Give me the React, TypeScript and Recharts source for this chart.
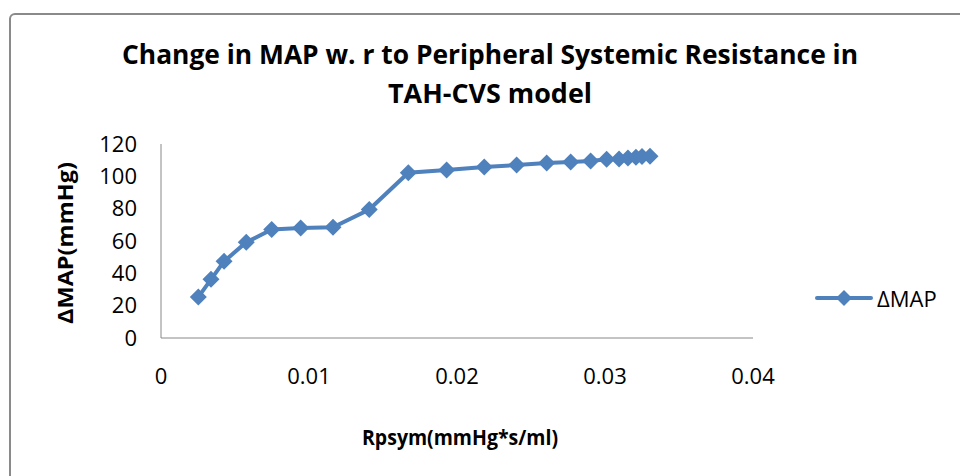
import { Legend, Line, LineChart, XAxis, YAxis } from "recharts";

const rpsym = [
  0.00252, 0.00338, 0.00426, 0.00576, 0.00748, 0.00944, 0.01162, 0.01407, 0.01671, 0.0193, 0.02184,
  0.02403, 0.02606, 0.02768, 0.02903, 0.03011, 0.03095, 0.03155, 0.03209, 0.0325, 0.03304,
];
const deltaMap = [
  25.3, 36.3, 47.4, 59.2, 67.1, 68.1, 68.5, 79.5, 102.2, 103.9, 105.7, 107.0, 108.2, 108.8, 109.5,
  110.5, 110.7, 111.3, 111.8, 112.2, 112.5,
];
const xTicks = [0, 0.01, 0.02, 0.03, 0.04];
const yTicks = [0, 20, 40, 60, 80, 100, 120];

const data = rpsym.map((r, i) => ({ r, dmap: deltaMap[i] }));

const BLUE = "#4F81BD";
const FONT = "'Open Sans', 'Noto Sans', sans-serif";

function Diamond(props: any) {
  const { cx, cy } = props;
  if (cx == null || cy == null) return null;
  const h = 8.5;
  return (
    <path
      key={`d-${props.index}`}
      d={`M${cx},${cy - h}L${cx + h},${cy}L${cx},${cy + h}L${cx - h},${cy}Z`}
      fill={BLUE}
      stroke="none"
    />
  );
}

// axis titles, squeezed a bit to get the narrow Calibri look
function XTitle(props: any) {
  const { x, y, width } = props.viewBox;
  return (
    <text x={x + width / 2 + 3} y={y + 107} textAnchor="middle" fontFamily={FONT} fontWeight="bold"
      fontSize={21} textLength={196} lengthAdjust="spacingAndGlyphs" fill="#000">
      Rpsym(mmHg*s/ml)
    </text>
  );
}

function YTitle(props: any) {
  const { y, height } = props.viewBox;
  const cx = 73;
  const cy = y + height / 2 + 2;
  return (
    <text x={cx} y={cy} textAnchor="middle" transform={`rotate(-90, ${cx}, ${cy})`} fontFamily={FONT}
      fontWeight="bold" fontSize={21} textLength={162} lengthAdjust="spacingAndGlyphs" fill="#000">
      ΔMAP(mmHg)
    </text>
  );
}

function LegendBox() {
  return (
    <div style={{ display: "flex", alignItems: "center", fontFamily: FONT, fontSize: 22, color: "#000" }}>
      <svg width={58} height={20}>
        <line x1={2} y1={10} x2={56} y2={10} stroke={BLUE} strokeWidth={4} strokeLinecap="round" />
        <path d="M29,2L37,10L29,18L21,10Z" fill={BLUE} />
      </svg>
      <span style={{ marginLeft: 4 }}>ΔMAP</span>
    </div>
  );
}

export default function App() {
  return (
    <div style={{ position: "fixed", left: 0, top: 0, width: 960, height: 476, overflow: "hidden", background: "#fff" }}>
      <div
        style={{
          position: "absolute",
          left: 9,
          top: 13,
          width: 1000,
          height: 520,
          border: "2px solid #8a8a8a",
          borderRadius: 6,
          boxSizing: "border-box",
        }}
      />
      <svg width={960} height={120} style={{ position: "absolute", left: 0, top: 0 }}>
        <text x={490} y={64} textAnchor="middle" fontFamily={FONT} fontWeight="bold" fontSize={26}
          textLength={736} lengthAdjust="spacingAndGlyphs">
          Change in MAP w. r to Peripheral Systemic Resistance in
        </text>
        <text x={490} y={103} textAnchor="middle" fontFamily={FONT} fontWeight="bold" fontSize={26}
          textLength={204} lengthAdjust="spacingAndGlyphs">
          TAH-CVS model
        </text>
      </svg>
      <div style={{ position: "absolute", left: 0, top: 0 }}>
        <LineChart width={960} height={476} data={data} margin={{ top: 144, right: 207, bottom: 38, left: 101 }}>
          <XAxis
            type="number"
            dataKey="r"
            domain={[0, 0.04]}
            ticks={xTicks}
            tickLine={false}
            tickSize={0}
            tickMargin={30}
            height={100}
            stroke="#888"
            fontSize={22}
            fontFamily={FONT}
            tick={{ fill: "#000", fontSize: 22, fontFamily: FONT }}
            label={<XTitle />}
          />
          <YAxis
            type="number"
            domain={[0, 120]}
            ticks={yTicks}
            tickLine={false}
            tickSize={0}
            tickMargin={24}
            width={60}
            stroke="#888"
            fontSize={22}
            fontFamily={FONT}
            tick={{ fill: "#000", fontSize: 22, fontFamily: FONT }}
            label={<YTitle />}
          />
          <Line
            type="linear"
            dataKey="dmap"
            name="ΔMAP"
            stroke={BLUE}
            strokeWidth={4}
            dot={<Diamond />}
            activeDot={false}
            isAnimationActive={false}
          />
          <Legend
            layout="vertical"
            align="center"
            verticalAlign="middle"
            content={<LegendBox />}
            wrapperStyle={{ left: 815, top: 283, width: 140 }}
          />
        </LineChart>
      </div>
    </div>
  );
}
